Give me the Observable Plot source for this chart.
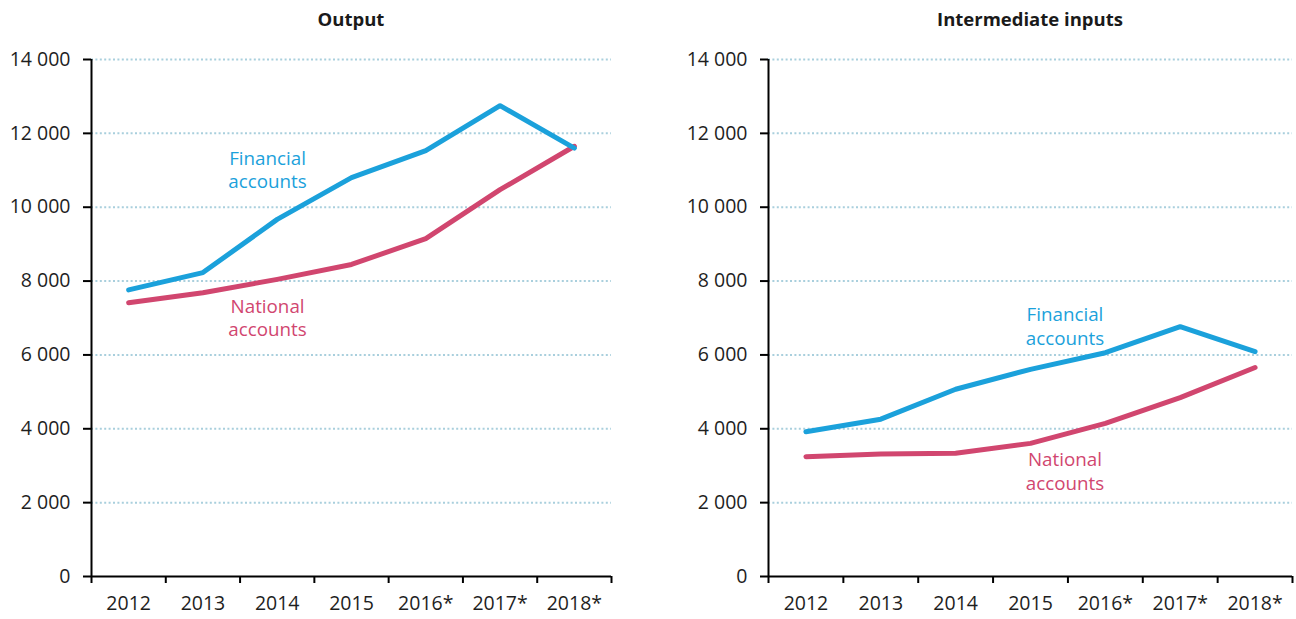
<!DOCTYPE html>
<html>
<head>
<meta charset="utf-8">
<script src="https://cdn.jsdelivr.net/npm/d3@7"></script>
<script src="https://cdn.jsdelivr.net/npm/@observablehq/plot@0.6"></script>
<style>
  html, body { margin: 0; padding: 0; background: #fff; }
  body { width: 1296px; height: 619px; overflow: hidden; font-family: "Open Sans", sans-serif; }
  .row { display: flex; }
  .panel { position: relative; }
  .title { height: 40px; line-height: 37px; font-weight: bold; font-size: 18.5px; color: #1a1a1a; text-align: center; }
</style>
</head>
<body>
<div class="row" id="row"></div>
<script>
const years = ["2012", "2013", "2014", "2015", "2016*", "2017*", "2018*"];
const outputFinancial = [7760, 8230, 9670, 10800, 11535, 12750, 11600];
const outputNational = [7415, 7685, 8045, 8450, 9150, 10475, 11650];
const inputsFinancial = [3920, 4260, 5070, 5610, 6060, 6765, 6090];
const inputsNational = [3245, 3315, 3340, 3605, 4145, 4845, 5660];
const yTicks = [0, 2000, 4000, 6000, 8000, 10000, 12000, 14000];
const titles = ["Output", "Intermediate inputs"];
const seriesNames = ["Financial\naccounts", "National\naccounts"];

const BLUE = "#1ba1db";
const PINK = "#d1466f";
const fmt = d => d3.format(",")(d).replace(/,/g, " ");

function rows(values) {
  return values.map((v, i) => ({ i, year: years[i], v }));
}

function makePanel(cfg) {
  const panel = document.createElement("div");
  panel.className = "panel";
  panel.style.width = cfg.width + "px";
  const t = document.createElement("div");
  t.className = "title";
  t.style.marginLeft = cfg.marginLeft + "px";
  t.style.width = (cfg.width - cfg.marginLeft - cfg.marginRight) + "px";
  t.textContent = cfg.title;
  panel.appendChild(t);

  const chart = Plot.plot({
    width: cfg.width,
    height: 579,
    marginTop: 19,
    marginBottom: 43,
    marginLeft: cfg.marginLeft,
    marginRight: cfg.marginRight,
    style: { fontFamily: "Open Sans", fontSize: "19.5px", color: "#1e1e1e", background: "#fff", overflow: "visible" },
    x: { type: "linear", domain: [0, years.length], label: null },
    y: { domain: [0, 14000], label: null },
    marks: [
      Plot.gridY(yTicks.filter(d => d > 0), { stroke: "#a9cfdd", strokeOpacity: 1, strokeWidth: 2, strokeDasharray: "2,2.4" }),
      Plot.axisY(yTicks, { label: null, tickFormat: fmt, tickSize: 8, tickPadding: 13, strokeWidth: 2, stroke: "#000", fontSize: 19.5, fill: "#1e1e1e" }),
      Plot.axisX(d3.range(years.length + 1), { label: null, tickFormat: () => "", tickSize: 7, strokeWidth: 2, stroke: "#000" }),
      Plot.axisX(d3.range(years.length).map(i => i + 0.5), { label: null, tickFormat: d => years[Math.floor(d)], tickSize: 0, tickPadding: 20, fontSize: 19.5, fill: "#1e1e1e" }),
      Plot.ruleY([0], { stroke: "#000", strokeWidth: 2 }),
      Plot.ruleX([0], { stroke: "#000", strokeWidth: 2 }),
      Plot.line(rows(cfg.national), { x: d => d.i + 0.5, y: "v", stroke: PINK, strokeWidth: 5, strokeLinejoin: "round" }),
      Plot.line(rows(cfg.financial), { x: d => d.i + 0.5, y: "v", stroke: BLUE, strokeWidth: 5, strokeLinejoin: "round" }),
      Plot.text([seriesNames[0]], { x: cfg.finLabel[0], y: cfg.finLabel[1], text: d => d, fill: BLUE, fontSize: 18.8, lineHeight: 1.25, textAnchor: "middle", lineAnchor: "middle" }),
      Plot.text([seriesNames[1]], { x: cfg.natLabel[0], y: cfg.natLabel[1], text: d => d, fill: PINK, fontSize: 18.8, lineHeight: 1.25, textAnchor: "middle", lineAnchor: "middle" })
    ]
  });
  panel.appendChild(chart);
  document.getElementById("row").appendChild(panel);
}

makePanel({
  title: titles[0], width: 648, marginLeft: 91, marginRight: 37,
  financial: outputFinancial, national: outputNational,
  finLabel: [2.37, 11030], natLabel: [2.37, 7030]
});
makePanel({
  title: titles[1], width: 648, marginLeft: 120, marginRight: 4,
  financial: inputsFinancial, national: inputsNational,
  finLabel: [3.96, 6800], natLabel: [3.96, 2870]
});
</script>
</body>
</html>
